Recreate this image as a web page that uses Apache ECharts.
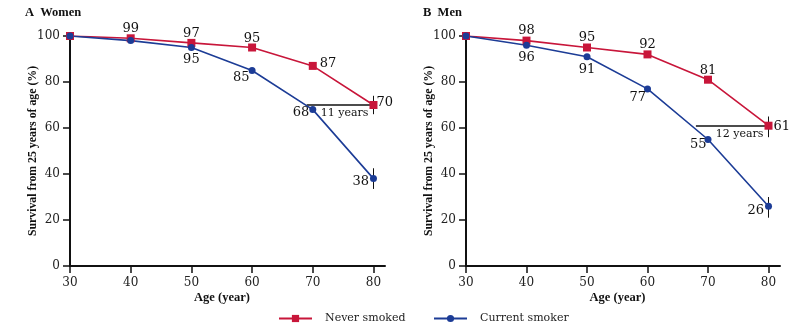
<!DOCTYPE html>
<html>
<head>
<meta charset="utf-8">
<script src="https://cdn.jsdelivr.net/npm/echarts@6/dist/echarts.min.js"></script>
<style>
  html, body { margin: 0; padding: 0; background: #fff; }
  #chart { width: 809px; height: 332px; }
</style>
</head>
<body>
<div id="chart"></div>
<script>
// Survival from age 25, by smoking status
const ages = [30, 40, 50, 60, 70, 80];
const xTicks = [30, 40, 50, 60, 70, 80];

const womenNever = [100, 99, 97, 95, 87, 70];
const womenSmoker = [100, 98, 95, 85, 68, 38];
const menNever = [100, 98, 95, 92, 81, 61];
const menSmoker = [100, 96, 91, 77, 55, 26];

// 95% interval at age 80: [low, high]
const womenNeverCI = [66, 74];
const womenSmokerCI = [33.5, 42.5];
const menNeverCI = [56, 65];
const menSmokerCI = [21, 30];

// years of life lost at age 80
const womenGap = 11;
const menGap = 12;

const panelTitles = ['A  Women', 'B  Men'];
const seriesNames = ['Never smoked', 'Current smoker'];

const RED = '#c8163a';
const BLUE = '#1c3c96';
const FONT = 'DejaVu Serif';

function pairs(vals) { return ages.map((a, i) => [a, vals[i]]); }

// label placement per point (hidden where nothing is printed)
function withLabels(vals, places) {
  return pairs(vals).map((p, i) => {
    const pl = places[i];
    if (!pl) return { value: p, label: { show: false } };
    return { value: p, label: { show: true, position: pl[0], offset: pl[1] || [0, 0], distance: pl[2] == null ? 1 : pl[2] } };
  });
}

const neverPlacesW = [null, ['top', [0, 2]], ['top', [0, 2]], ['top', [0, 3]], ['right', [0, -2], 3], ['right', [-2, -2], 1]];
const smokerPlacesW = [null, null, ['bottom', [0, 1]], ['left', [2, 7]], ['left', [1, 3]], ['left', [0, 3]]];
const neverPlacesM = [null, ['top', [0, 2]], ['top', [0, 2]], ['top', [0, 2]], ['top', [0, 2]], ['right', [0, 1], 1]];
const smokerPlacesM = [null, ['bottom', [0, 1]], ['bottom', [0, 2]], ['left', [3, 9]], ['left', [3, 5]], ['left', [0, 4]]];

function errBar(ci) {
  return [{ coord: [80, ci[0]], lineStyle: { color: '#111', width: 1, type: 'solid' }, label: { show: false } }, { coord: [80, ci[1]] }];
}
function gapLine(gap, y) {
  return [{ coord: [80 - gap, y], lineStyle: { color: '#111', width: 1.5, type: 'solid' },
            label: { show: true, formatter: gap + ' years', position: 'insideEndBottom', distance: [5, 3],
                     color: '#111', fontFamily: FONT, fontSize: 11 } },
          { coord: [80, y] }];
}

function lineSeries(name, idx, vals, places, color, symbol, size, markData) {
  return {
    name: name, type: 'line', xAxisIndex: idx, yAxisIndex: idx,
    data: withLabels(vals, places),
    symbol: symbol, symbolSize: size, showSymbol: true,
    lineStyle: { color: color, width: 1.6 },
    itemStyle: { color: color },
    label: { color: '#111', fontFamily: FONT, fontSize: 13, formatter: p => p.value[1] },
    emphasis: { disabled: true },
    z: 3,
    markLine: { silent: true, symbol: 'none', animation: false, z: 2, data: markData }
  };
}

const nameStyle = { fontFamily: 'Liberation Serif', fontWeight: 'bold', fontSize: 12.5, color: '#111' };

function xAxisOpt(idx) {
  return {
    type: 'value', gridIndex: idx, min: 30, max: 81.9, interval: 10,
    name: 'Age (year)', nameLocation: 'middle', nameGap: 25, nameMoveOverlap: false,
    nameTextStyle: Object.assign({}, nameStyle, { padding: [0, 11, 0, 0] }),
    axisLine: { show: true, lineStyle: { color: '#111', width: 2 } },
    axisTick: { show: true, inside: false, length: 7, lineStyle: { color: '#111', width: 1.5 }, customValues: xTicks },
    axisLabel: { color: '#222', fontFamily: FONT, fontSize: 12, margin: 11, customValues: xTicks },
    splitLine: { show: false }
  };
}
function yAxisOpt(idx) {
  return {
    type: 'value', gridIndex: idx, min: 0, max: 100, interval: 20,
    name: 'Survival from 25 years of age (%)', nameLocation: 'middle', nameGap: 31, nameMoveOverlap: false,
    nameTextStyle: Object.assign({}, nameStyle, { fontSize: 11.8 }),
    axisLine: { show: true, lineStyle: { color: '#111', width: 2 } },
    axisTick: { show: true, inside: false, length: 7, lineStyle: { color: '#111', width: 1.5 } },
    axisLabel: { color: '#222', fontFamily: FONT, fontSize: 12, margin: 10 },
    splitLine: { show: false }
  };
}

const legendText = { fontFamily: FONT, fontSize: 11, color: '#222', padding: [0, 0, 0, 8] };

const chart = echarts.init(document.getElementById('chart'), null, { renderer: 'canvas' });
chart.setOption({
  animation: false,
  backgroundColor: '#fff',
  title: [
    { text: panelTitles[0], left: 20, top: 1, textStyle: nameStyle },
    { text: panelTitles[1], left: 418, top: 1, textStyle: nameStyle }
  ],
  grid: [
    { left: 70, width: 315, top: 36, height: 230 },
    { left: 466, width: 314, top: 36, height: 230 }
  ],
  xAxis: [xAxisOpt(0), xAxisOpt(1)],
  yAxis: [yAxisOpt(0), yAxisOpt(1)],
  legend: [
    { data: [seriesNames[0]], left: 278, top: 313, padding: 0, itemWidth: 33, itemHeight: 9, selectedMode: false,
      textStyle: legendText },
    { data: [seriesNames[1]], left: 433, top: 313, padding: 0, itemWidth: 33, itemHeight: 9, selectedMode: false,
      textStyle: legendText }
  ],
  series: [
    lineSeries(seriesNames[0], 0, womenNever, neverPlacesW, RED, 'rect', 8,
      [errBar(womenNeverCI), gapLine(womenGap, womenNever[5])]),
    lineSeries(seriesNames[1], 0, womenSmoker, smokerPlacesW, BLUE, 'circle', 7,
      [errBar(womenSmokerCI)]),
    lineSeries(seriesNames[0], 1, menNever, neverPlacesM, RED, 'rect', 8,
      [errBar(menNeverCI), gapLine(menGap, menNever[5])]),
    lineSeries(seriesNames[1], 1, menSmoker, smokerPlacesM, BLUE, 'circle', 7,
      [errBar(menSmokerCI)])
  ]
});
</script>
</body>
</html>
